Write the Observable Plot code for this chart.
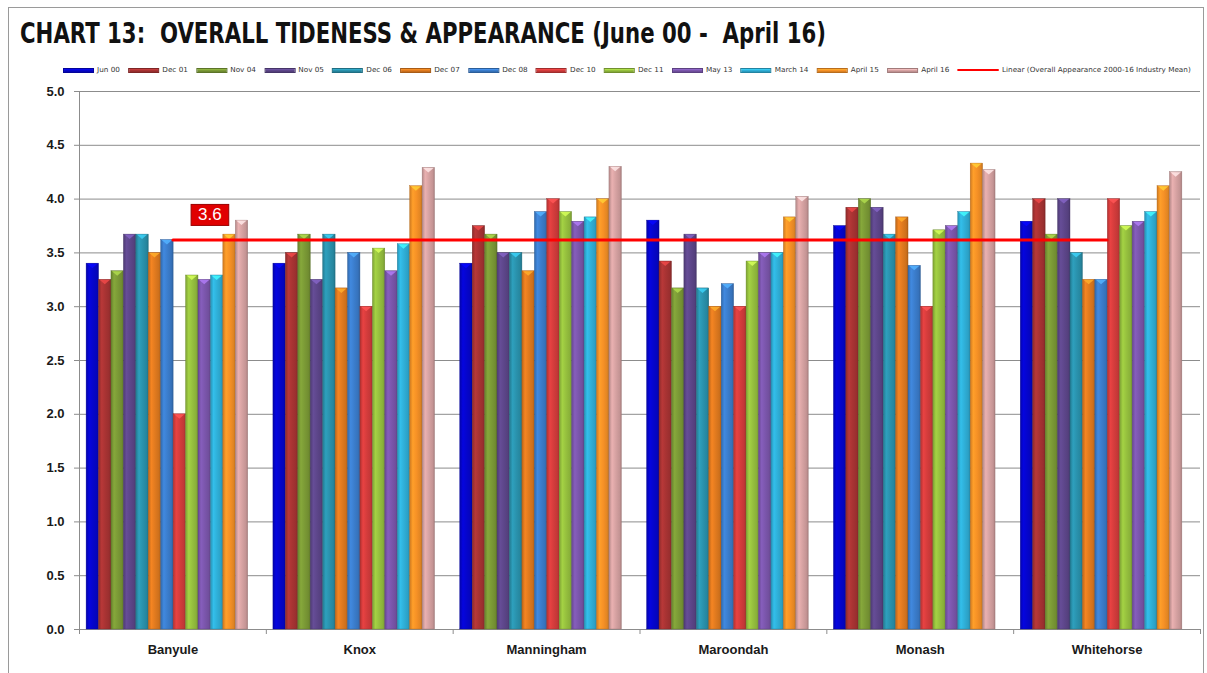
<!DOCTYPE html>
<html>
<head>
<meta charset="utf-8">
<script src="https://cdn.jsdelivr.net/npm/d3@7"></script>
<script src="https://cdn.jsdelivr.net/npm/@observablehq/plot@0.6"></script>
<style>
  body { margin: 0; background: #fff; }
  #wrap { position: relative; width: 1207px; height: 673px; overflow: hidden; background: #fff; }
  #border { position: absolute; left: 8px; top: 7px; width: 1196px; height: 720px; border: 1px solid #9a9a9a; box-sizing: border-box; }
  #title { position: absolute; left: 20px; top: 19px; font-family: "Liberation Sans Narrow", "DejaVu Sans Condensed", "Liberation Sans", sans-serif; font-weight: bold; font-size: 29px; color: #111; white-space: nowrap; transform-origin: 0 0; line-height: 1; }
  #legend { position: absolute; left: 63px; top: 65px; height: 10px; display: flex; align-items: center; white-space: nowrap; transform-origin: 0 50%; font-family: "DejaVu Sans", sans-serif; font-size: 7px; color: #333; }
  .item { display: flex; align-items: center; margin-right: 8px; }
  .sw { width: 30px; height: 5px; margin-right: 3px; box-sizing: border-box; }
  .swl { width: 40px; height: 2px; margin-right: 3px; background: #ff0000; }
  #chart { position: absolute; left: 0; top: 80px; }
</style>
</head>
<body>
<div id="wrap">
  <div id="border"></div>
  <div id="title">CHART 13:&nbsp; OVERALL TIDENESS &amp; APPEARANCE (June 00 -&nbsp; April 16)</div>
  <div id="legend"></div>
  <div id="chart"></div>
</div>
<script>
// ---------- data ----------
const cities = ["Banyule", "Knox", "Manningham", "Maroondah", "Monash", "Whitehorse"];
const seriesNames = ["Jun 00", "Dec 01", "Nov 04", "Nov 05", "Dec 06", "Dec 07", "Dec 08", "Dec 10", "Dec 11", "May 13", "March 14", "April 15", "April 16"];
const seriesColors = ["#0505cc", "#a83333", "#7b9a36", "#5d468a", "#2a92ad", "#e07a1f", "#3b7dcc", "#d43c3c", "#96c03e", "#7b56ac", "#2fafd7", "#f69126", "#d6a2a2"];

const banyule    = [3.40, 3.25, 3.33, 3.67, 3.67, 3.50, 3.62, 2.00, 3.29, 3.25, 3.29, 3.67, 3.80];
const knox       = [3.40, 3.50, 3.67, 3.25, 3.67, 3.17, 3.50, 3.00, 3.54, 3.33, 3.58, 4.12, 4.29];
const manningham = [3.40, 3.75, 3.67, 3.50, 3.50, 3.33, 3.88, 4.00, 3.88, 3.79, 3.83, 4.00, 4.30];
const maroondah  = [3.80, 3.42, 3.17, 3.67, 3.17, 3.00, 3.21, 3.00, 3.42, 3.50, 3.50, 3.83, 4.02];
const monash     = [3.75, 3.92, 4.00, 3.92, 3.67, 3.83, 3.38, 3.00, 3.71, 3.75, 3.88, 4.33, 4.27];
const whitehorse = [3.79, 4.00, 3.67, 4.00, 3.50, 3.25, 3.25, 4.00, 3.75, 3.79, 3.88, 4.12, 4.25];

const industryMean = 3.62;
const trendLabel = "3.6";
const trendName = "Linear (Overall Appearance 2000-16 Industry Mean)";
const yTicks = [0, 0.5, 1, 1.5, 2, 2.5, 3, 3.5, 4, 4.5, 5];

// ---------- build table ----------
const valuesByCity = [banyule, knox, manningham, maroondah, monash, whitehorse];
const rows = cities.flatMap((city, ci) =>
  seriesNames.map((series, si) => ({ city, ci, series, value: valuesByCity[ci][si] })));
const trendPoints = [
  { ci: 0, value: industryMean },
  { ci: cities.length - 1, value: industryMean }
];
const boundaries = d3.range(cities.length + 1).map(i => i - 0.5);

// bars within each city group (slightly left of group centre, as in the original)
const inner = d3.scaleBand().domain(seriesNames).range([-0.462, 0.403]).paddingInner(0).paddingOuter(0);

// ---------- title ----------
const title = document.getElementById("title");
const tw = title.getBoundingClientRect().width;
title.style.transform = `scaleX(${806 / tw})`;

// ---------- legend ----------
const legend = document.getElementById("legend");
seriesNames.forEach((s, i) => {
  const c = d3.color(seriesColors[i]);
  const item = document.createElement("div");
  item.className = "item";
  const sw = document.createElement("div");
  sw.className = "sw";
  sw.style.background = `linear-gradient(to bottom, ${c.brighter(0.6)}, ${c} 50%, ${c.darker(0.5)})`;
  sw.style.border = `0.5px solid ${c.darker(0.8)}`;
  const t = document.createElement("span");
  t.textContent = s;
  item.appendChild(sw); item.appendChild(t);
  legend.appendChild(item);
});
{
  const item = document.createElement("div");
  item.className = "item";
  const sw = document.createElement("div");
  sw.className = "swl";
  const t = document.createElement("span");
  t.textContent = trendName;
  item.appendChild(sw); item.appendChild(t);
  legend.appendChild(item);
}
const lw = legend.getBoundingClientRect().width;
legend.style.transform = `scaleX(${(1191 - 63 + 8) / lw})`;

// ---------- chart ----------
const grey = "#8c8c8c";
const svg = Plot.plot({
  width: 1207,
  height: 593,
  marginLeft: 79,
  marginRight: 7,
  marginTop: 11,
  marginBottom: 44,
  x: {
    type: "linear",
    domain: [-0.5, cities.length - 0.5],
    ticks: d3.range(cities.length),
    tickFormat: i => cities[i],
    tickSize: 0,
    tickPadding: 15,
    label: null
  },
  y: {
    domain: [0, 5],
    ticks: yTicks,
    tickFormat: d3.format(".1f"),
    tickSize: 0,
    tickPadding: 15,
    label: null
  },
  color: { domain: seriesNames, range: seriesColors },
  style: {
    fontFamily: "'Liberation Sans', Arial, sans-serif",
    fontSize: "13px",
    fontWeight: "bold",
    color: "#1a1a1a",
    background: "transparent",
    overflow: "visible"
  },
  marks: [
    Plot.ruleY(yTicks, { stroke: grey, strokeWidth: 1, insetLeft: -5 }),
    Plot.ruleX([boundaries[0]], { stroke: grey, strokeWidth: 1 }),
    Plot.ruleX(boundaries, { y1: () => 0, y2: () => 0, insetBottom: -5, stroke: grey }),
    Plot.rect(rows, {
      x1: d => d.ci + inner(d.series),
      x2: d => d.ci + inner(d.series) + inner.bandwidth(),
      y1: () => 0,
      y2: "value",
      fill: "series"
    }),
    Plot.line(trendPoints, { x: "ci", y: "value", stroke: "#ff0000", strokeWidth: 3 }),
    Plot.text(trendPoints.slice(0, 1), {
      x: "ci", y: "value", text: () => trendLabel,
      dx: 37, dy: -25, fill: "white", fontSize: 17, fontWeight: "normal"
    })
  ]
});
document.getElementById("chart").appendChild(svg);

// ---------- bar shading (3D look, derived from the drawn rects) ----------
const sel = d3.select(svg);
const defs = sel.insert("defs", ":first-child");
const grads = new Map();
sel.selectAll('g[aria-label="rect"] rect').each(function () {
  const r = d3.select(this);
  const fill = r.attr("fill");
  if (!fill || fill.startsWith("url")) return;
  const c = d3.color(fill);
  if (!grads.has(fill)) {
    const id = "g" + grads.size;
    grads.set(fill, id);
    const lg = defs.append("linearGradient").attr("id", id).attr("x1", "0").attr("x2", "1").attr("y1", "0").attr("y2", "0");
    [[0, c.darker(0.5)], [0.25, c.brighter(0.25)], [0.55, c], [0.85, c.darker(0.25)], [1, c.darker(0.7)]]
      .forEach(([o, col]) => lg.append("stop").attr("offset", o).attr("stop-color", col));
  }
  r.attr("fill", `url(#${grads.get(fill)})`).attr("stroke", c.darker(0.9)).attr("stroke-width", 0.4);
  const x = +r.attr("x"), y = +r.attr("y"), w = +r.attr("width");
  d3.select(this.parentNode).append("path")
    .attr("d", `M${x + 1},${y + 0.5}L${x + w - 1},${y + 0.5}L${x + w / 2},${y + 5}Z`)
    .attr("fill", c.brighter(1.0)).attr("opacity", 0.85);
});

// ---------- red box behind the trend label ----------
sel.selectAll('g[aria-label="text"] text').each(function () {
  const bb = this.getBBox();
  d3.select(this.parentNode).insert("rect", function () { return this.firstChild; })
    .attr("x", bb.x - 7).attr("y", bb.y - 1)
    .attr("width", bb.width + 14).attr("height", bb.height + 2)
    .attr("transform", this.getAttribute("transform"))
    .attr("fill", "#e00000").attr("stroke", "#9a0000").attr("stroke-width", 1);
});
</script>
</body>
</html>
